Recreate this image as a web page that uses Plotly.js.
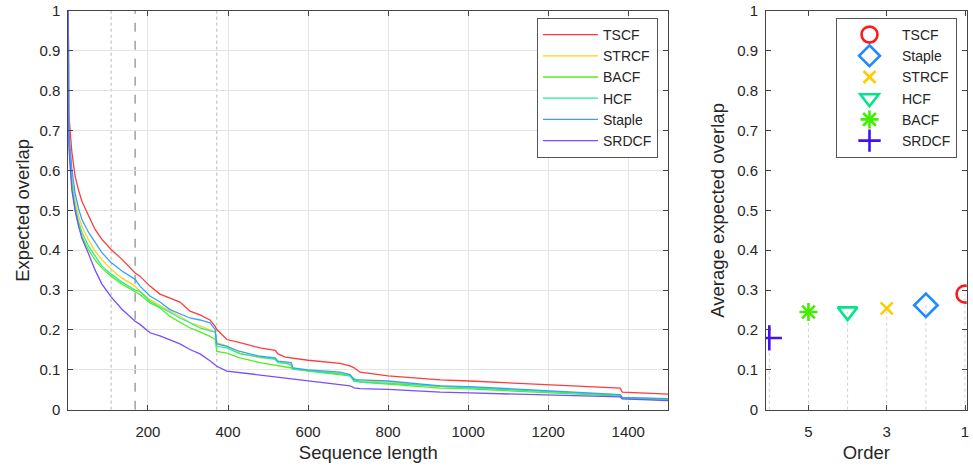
<!DOCTYPE html>
<html>
<head>
<meta charset="utf-8">
<script src="https://cdn.plot.ly/plotly-3.0.1.min.js"></script>
<style>html,body{margin:0;padding:0;background:#fff;}#chart{width:973px;height:467px;}</style>
</head>
<body>
<div id="chart"></div>
<script>
// ---- Expected overlap curves (left) ----
const seqLen = [1,2,10,18,27,35,52,68,85,108,135,168,180,205,230,255,280,305,330,355,368,372,397,430,480,518,525,543,558,562,600,680,705,715,730,800,930,1003,1380,1385,1500];
const eoTSCF   = [1,.745,.645,.586,.549,.523,.486,.452,.427,.402,.377,.343,.335,.310,.290,.281,.270,.247,.238,.225,.209,.201,.176,.168,.155,.149,.140,.132,.130,.129,.124,.116,.110,.105,.094,.085,.075,.072,.054,.044,.039];
const eoStaple = [1,.703,.603,.543,.503,.477,.444,.419,.394,.369,.348,.327,.310,.285,.270,.251,.240,.230,.225,.218,.201,.165,.159,.146,.134,.130,.122,.120,.118,.105,.100,.094,.088,.075,.075,.072,.060,.058,.038,.031,.028];
const eoSTRCF  = [1,.690,.585,.525,.485,.460,.425,.398,.376,.352,.330,.310,.297,.276,.262,.247,.235,.218,.210,.201,.195,.168,.160,.142,.130,.128,.120,.118,.116,.102,.098,.092,.088,.073,.072,.069,.058,.056,.037,.030,.027];
const eoHCF    = [1,.680,.570,.510,.470,.445,.410,.385,.360,.340,.320,.300,.297,.272,.258,.243,.230,.218,.205,.198,.195,.159,.155,.140,.132,.126,.118,.116,.112,.102,.098,.090,.085,.071,.070,.066,.058,.055,.036,.029,.027];
const eoBACF   = [1,.670,.560,.500,.460,.435,.400,.375,.355,.335,.315,.295,.289,.268,.255,.234,.220,.205,.195,.184,.176,.146,.142,.130,.118,.112,.110,.108,.106,.104,.097,.088,.085,.078,.069,.064,.054,.052,.034,.028,.025];
const eoSRDCF  = [1,.660,.550,.500,.460,.430,.390,.350,.315,.283,.252,.222,.214,.193,.185,.175,.165,.151,.140,.123,.112,.109,.097,.093,.088,.084,.082,.080,.078,.077,.074,.064,.060,.055,.053,.051,.044,.042,.032,.027,.023];
const rangeBounds = [108, 372];   // dotted lines
const rangePeak = 168;            // dashed line

// ---- Average expected overlap (right) ----
const trackers = ['TSCF','Staple','STRCF','HCF','BACF','SRDCF'];
const orderRank = [1,2,3,4,5,6];
const eaoValues = [0.290, 0.262, 0.254, 0.246, 0.245, 0.180];

const FONT = 'Liberation Sans, Arial, Helvetica, sans-serif';
const TXT = '#262626';

const curveDefs = [
  {name:'TSCF', y:eoTSCF, color:'#ff3b3b'},
  {name:'STRCF', y:eoSTRCF, color:'#ffd21a'},
  {name:'BACF', y:eoBACF, color:'#55ee22'},
  {name:'HCF', y:eoHCF, color:'#22ee99'},
  {name:'Staple', y:eoStaple, color:'#3aa0ff'},
  {name:'SRDCF', y:eoSRDCF, color:'#7a4dff'}
];
const markerStyle = {
  TSCF:   {symbol:'circle-open', color:'#ff1a1a', size:17},
  Staple: {symbol:'diamond-open', color:'#1e8cff', size:18},
  STRCF:  {symbol:'x-thin-open', color:'#ffcc00', size:12},
  HCF:    {symbol:'triangle-down-open', color:'#00e68a', size:17},
  BACF:   {symbol:'asterisk-open', color:'#44ee00', size:15},
  SRDCF:  {symbol:'cross-thin-open', color:'#4411ee', size:18}
};

const traces = [];
curveDefs.forEach(c => traces.push({
  type:'scatter', mode:'lines', x:seqLen, y:c.y, name:c.name,
  line:{color:c.color, width:1.3}, xaxis:'x', yaxis:'y', legend:'legend'
}));
// stems
trackers.forEach((t,i) => traces.push({
  type:'scatter', mode:'lines', x:[orderRank[i],orderRank[i]], y:[0,eaoValues[i]],
  line:{color:'#cfcfcf', width:1, dash:'dot'}, showlegend:false, hoverinfo:'skip',
  xaxis:'x2', yaxis:'y2'
}));
trackers.forEach((t,i) => traces.push({
  type:'scatter', mode:'markers', x:[orderRank[i]], y:[eaoValues[i]], name:t,
  marker:{symbol:markerStyle[t].symbol, size:markerStyle[t].size, color:markerStyle[t].color,
          line:{color:markerStyle[t].color, width:2.6}},
  xaxis:'x2', yaxis:'y2', legend:'legend2'
}));

const shapes = [];
rangeBounds.forEach(b => shapes.push({type:'line', xref:'x', yref:'y', x0:b, x1:b, y0:0, y1:1,
  line:{color:'#b5b5b5', width:1, dash:'dot'}, layer:'below'}));
shapes.push({type:'line', xref:'x', yref:'y', x0:rangePeak, x1:rangePeak, y0:0, y1:1,
  line:{color:'#a0a0a0', width:1.5, dash:'dash'}, layer:'below'});

const axCommon = {
  showline:true, linecolor:'#444', linewidth:1, mirror:'ticks', ticks:'inside', ticklen:5,
  tickcolor:'#444', zeroline:false, tickfont:{size:15, color:TXT, family:FONT}, automargin:false
};
const TF = {size:18.5, color:TXT, family:FONT};
const Y0 = 1-409.7/467, Y1 = 1-11/467;

const layout = {
  width:973, height:467, margin:{l:0,r:0,t:0,b:0},
  paper_bgcolor:'#fff', plot_bgcolor:'#fff', font:{family:FONT, color:TXT},
  showlegend:true,
  xaxis:Object.assign({}, axCommon, {domain:[68.3/973, 668.3/973], range:[1,1500],
    tickvals:[200,400,600,800,1000,1200,1400], showgrid:true, gridcolor:'#e4e4e4',
    ticklabelstandoff:8, anchor:'y',
    title:{text:'Sequence length', font:TF, standoff:7}}),
  yaxis:Object.assign({}, axCommon, {domain:[Y0,Y1], range:[0,1], dtick:0.1, showgrid:true,
    gridcolor:'#e4e4e4', ticklabelstandoff:4, anchor:'x',
    title:{text:'Expected overlap', font:TF, standoff:4}}),
  xaxis2:Object.assign({}, axCommon, {domain:[766/973, 966.7/973], range:[6.085,0.957],
    tickvals:[5,3,1], showgrid:false, ticklabelstandoff:8, anchor:'y2',
    title:{text:'Order', font:TF, standoff:7}}),
  yaxis2:Object.assign({}, axCommon, {domain:[Y0,Y1], range:[0,1], dtick:0.1, showgrid:false,
    ticklabelstandoff:4, anchor:'x2',
    title:{text:'Average expected overlap', font:TF, standoff:7}}),
  legend:{x:537/973, y:1-18/467, xanchor:'left', yanchor:'top', bgcolor:'#fff',
    bordercolor:'#555', borderwidth:1, font:{size:14, color:TXT, family:FONT}, tracegroupgap:0,
    itemwidth:55},
  legend2:{x:836/973, y:1-18/467, xanchor:'left', yanchor:'top', bgcolor:'#fff',
    bordercolor:'#555', borderwidth:1, font:{size:14, color:TXT, family:FONT}, tracegroupgap:0,
    itemwidth:55},
  shapes:shapes
};

Plotly.newPlot('chart', traces, layout, {staticPlot:true, displayModeBar:false});
</script>
</body>
</html>
